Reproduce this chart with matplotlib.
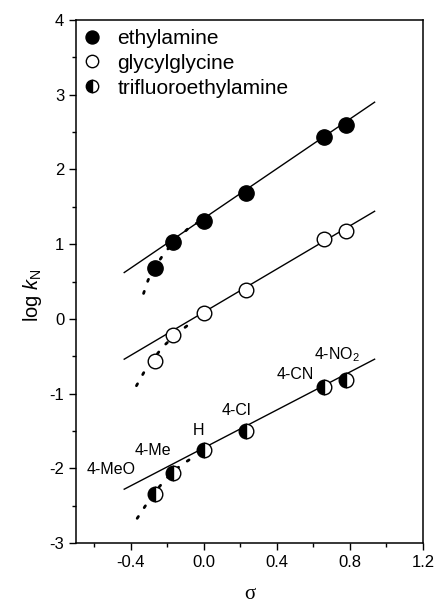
import matplotlib.pyplot as plt
from matplotlib.ticker import MultipleLocator, FormatStrFormatter

plt.rcParams['font.family'] = ['Liberation Sans', 'DejaVu Sans']
plt.rcParams['mathtext.fontset'] = 'custom'
plt.rcParams['mathtext.rm'] = 'Liberation Sans'
plt.rcParams['mathtext.it'] = 'Liberation Sans:italic'
plt.rcParams['axes.unicode_minus'] = False

# substituent constants and labels
sigma = [-0.27, -0.17, 0.0, 0.23, 0.66, 0.78]
subst = ['4-MeO', '4-Me', 'H', '4-Cl', '4-CN', '4-NO$_2$']

# log kN for each amine
ethyl = [0.68, 1.03, 1.31, 1.68, 2.44, 2.59]
glygly = [-0.56, -0.21, 0.08, 0.38, 1.07, 1.18]
trifluoro = [-2.34, -2.06, -1.76, -1.50, -0.91, -0.82]

# fitted straight lines (end points)
fit_x = [-0.436, 0.935]
fit_ethyl = [0.62, 2.90]
fit_glygly = [-0.54, 1.44]
fit_trifluoro = [-2.28, -0.54]

# dotted curves
curve_ethyl_x = [-0.33, -0.305, -0.27, -0.217, -0.17, -0.086, -0.04]
curve_ethyl_y = [0.34, 0.52, 0.68, 0.88, 1.01, 1.21, 1.28]
curve_gly_x = [-0.369, -0.329, -0.281, -0.223, -0.153, -0.08]
curve_gly_y = [-0.895, -0.72, -0.55, -0.37, -0.21, -0.07]
curve_tfe_x = [-0.365, -0.314, -0.259, -0.195, -0.131, -0.058]
curve_tfe_y = [-2.67, -2.48, -2.29, -2.11, -1.97, -1.85]

# label positions
lab_x = [-0.505, -0.277, -0.03, 0.179, 0.498, 0.727]
lab_y = [-2.01, -1.76, -1.49, -1.22, -0.74, -0.485]

fig = plt.figure(figsize=(4.37, 6.05), dpi=100)
ax = fig.add_axes([76/437, 62/605, 347/437, 523/605])

for cx, cy in [(curve_ethyl_x, curve_ethyl_y), (curve_gly_x, curve_gly_y), (curve_tfe_x, curve_tfe_y)]:
    ax.plot(cx, cy, color='black', lw=2, ls=(0, (0.8, 3.8)), dash_capstyle='round')

for fy in [fit_ethyl, fit_glygly, fit_trifluoro]:
    ax.plot(fit_x, fy, color='black', lw=1)

ax.plot(sigma, ethyl, 'o', ms=11, mfc='black', mec='black', mew=1, ls='none', label='ethylamine')
ax.plot(sigma, glygly, 'o', ms=10.5, mfc='white', mec='black', mew=1, ls='none', label='glycylglycine')
ax.plot(sigma, trifluoro, 'o', ms=10.5, mfc='black', mfcalt='white', fillstyle='left',
        mec='black', mew=1, ls='none', label='trifluoroethylamine')

for s, lx, ly in zip(subst, lab_x, lab_y):
    ax.text(lx, ly, s, fontsize=11.5, ha='center', va='center')

ax.set_xlim(-0.7, 1.2)
ax.set_ylim(-3, 4)
ax.xaxis.set_major_locator(MultipleLocator(0.4))
ax.xaxis.set_minor_locator(MultipleLocator(0.2))
ax.xaxis.set_major_formatter(FormatStrFormatter('%.1f'))
ax.yaxis.set_major_locator(MultipleLocator(1))
ax.yaxis.set_minor_locator(MultipleLocator(0.5))
ax.tick_params(which='major', direction='out', length=5, width=1, labelsize=12)
ax.tick_params(which='minor', direction='out', length=3, width=1)
for sp in ax.spines.values():
    sp.set_linewidth(1.1)

ax.set_xlabel('σ', family='Liberation Serif', fontsize=15)
ax.xaxis.label.set_va('center')
ax.xaxis.set_label_coords(0.5, -0.098)
ax.set_ylabel(r'log $\mathit{k}_\mathrm{N}$', fontsize=14.5)
ax.yaxis.label.set_va('center')
ax.yaxis.set_label_coords(-0.124, 0.474)

leg = ax.legend(loc='upper left', frameon=False, fontsize=15, handletextpad=0.75,
                handlelength=0.9, labelspacing=0.28, borderaxespad=0.1,
                bbox_to_anchor=(-0.01, 1.003), markerscale=0.85)

fig.savefig('out.png', dpi=100)
